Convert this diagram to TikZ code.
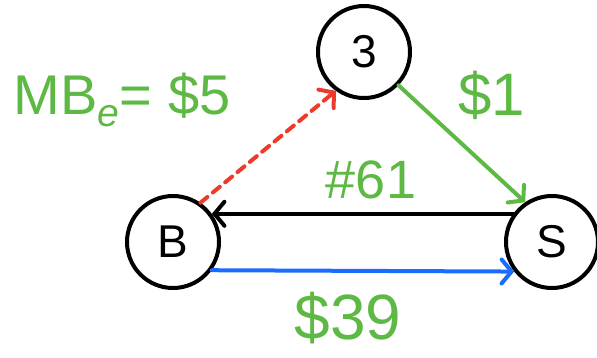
\documentclass[tikz,border=0pt]{standalone}
\usepackage{fontspec}
\setmainfont{Liberation Sans}
\usepackage{tikz}
\usetikzlibrary{arrows.meta,positioning}
\definecolor{cInk} {HTML}{000000}
\definecolor{cGrn} {HTML}{5DB944}
\definecolor{cRed} {HTML}{EE3A2A}
\definecolor{cBlu} {HTML}{1A6CFF}
\tikzset{
  stn/.style   ={draw=cInk,circle,line width=4pt,minimum size=92pt,inner sep=0pt,
                 font=\fontsize{46}{46}\selectfont},
  edg/.style   ={-{Straight Barb[length=10pt,width=24pt,line cap=round]},line width=4pt,line cap=round},
  lbl/.style   ={text=cGrn,inner sep=0pt},
}

\begin{document}
\begin{tikzpicture}[x=1pt,y=-1pt]
\useasboundingbox (0,0) rectangle (597,357);
\node[stn] (n3) at (364,52)  {3};
\node[stn] (nb) at (173,242) {B};
\node[stn] (ns) at (552,242) {S};

\draw[edg,draw=cRed,dashed,dash pattern=on 9pt off 7pt] (nb.55) -- (n3.234);
\draw[edg,draw=cGrn] (n3.-44) -- (ns.124);
\draw[edg,draw=cInk] (ns.144) -- (nb.36);
\draw[edg,draw=cBlu] (nb.-36) -- (ns.-142);

\node[lbl,font=\fontsize{56}{56}\selectfont] (lmb) at (122,100) {MB$_{\mathit{e}}$= \$5};
\node[lbl,font=\fontsize{60}{60}\selectfont] (l1)  at (492,95)  {\$1};
\node[lbl,font=\fontsize{54}{54}\selectfont] (l61) at (371,180) {\#61};
\node[lbl,font=\fontsize{64}{64}\selectfont] (l39) at (348,318) {\$39};
\end{tikzpicture}
\end{document}
